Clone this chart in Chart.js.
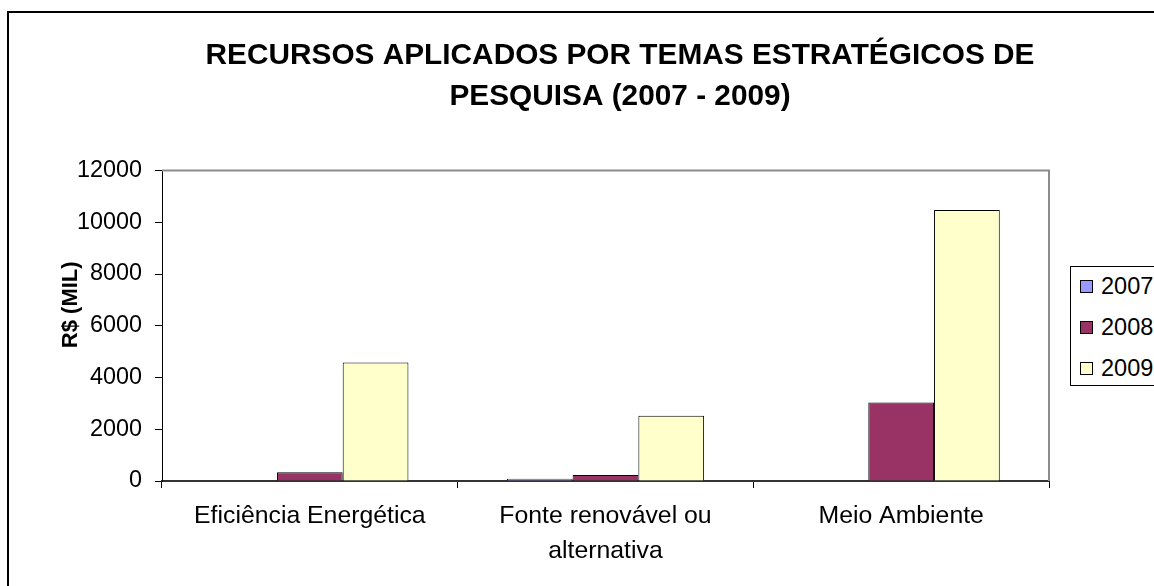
<!DOCTYPE html>
<html>
<head>
<meta charset="utf-8">
<script src="https://cdn.jsdelivr.net/npm/chart.js@4.4.1/dist/chart.umd.min.js"></script>
<style>
  html, body { margin: 0; padding: 0; background: #fff; overflow: hidden; width: 1154px; height: 586px; }
  #frame { position: absolute; left: 7px; top: 11px; width: 1300px; height: 700px; border: 2px solid #000; box-sizing: border-box; }
  #wrap { position: absolute; left: 0; top: 0; width: 1240px; height: 586px; }
  #legend { position: absolute; left: 1070px; top: 266px; width: 120px; height: 120px; border: 1px solid #000; box-sizing: border-box; background: #fff;
            font-family: 'Liberation Sans', Arial, sans-serif; font-size: 23.5px; color: #000; }
  .item { position: absolute; left: 9px; height: 26px; display: flex; align-items: center; }
  .sw { width: 13px; height: 13px; border: 1px solid #000; box-sizing: border-box; margin-right: 8px; }
</style>
</head>
<body>
<div id="frame"></div>
<div id="wrap"><canvas id="c" width="1240" height="586"></canvas></div>
<div id="legend"></div>
<script>
const titleLines = ["RECURSOS APLICADOS POR TEMAS ESTRATÉGICOS DE", "PESQUISA (2007 - 2009)"];
const yAxisTitle = "R$ (MIL)";
const categories = [["Eficiência Energética"], ["Fonte renovável ou", "alternativa"], ["Meio Ambiente"]];
const seriesNames = ["2007", "2008", "2009"];
const values2007 = [0, 90, 0];
const values2008 = [335, 232, 3030];
const values2009 = [4575, 2525, 10470];
const seriesColors = ["#9999FF", "#993366", "#FFFFCC"];
const yTicks = [0, 2000, 4000, 6000, 8000, 10000, 12000];

const FONT = "'Liberation Sans', Arial, sans-serif";
const seriesValues = [values2007, values2008, values2009];

const plotBorder = {
  id: 'plotBorder',
  beforeDatasetsDraw(chart) {
    const a = chart.chartArea, ctx = chart.ctx;
    ctx.save();
    ctx.strokeStyle = '#8c8c8c';
    ctx.lineWidth = 2;
    ctx.beginPath();
    ctx.moveTo(a.left, a.top);
    ctx.lineTo(a.right, a.top);
    ctx.lineTo(a.right, a.bottom);
    ctx.stroke();
    ctx.restore();
  }
};

// y-axis title, drawn as text on the canvas beside the value axis
const yTitle = {
  id: 'yTitle',
  afterDraw(chart) {
    const a = chart.chartArea, ctx = chart.ctx;
    ctx.save();
    ctx.translate(71, (a.top + a.bottom) / 2 - 21);
    ctx.rotate(-Math.PI / 2);
    ctx.font = "bold 22px " + FONT;
    ctx.fillStyle = '#000';
    ctx.textAlign = 'center';
    ctx.textBaseline = 'middle';
    ctx.fillText(yAxisTitle, 0, 0);
    ctx.restore();
  }
};

const chart = new Chart(document.getElementById('c'), {
  type: 'bar',
  data: {
    labels: categories,
    datasets: seriesNames.map((n, i) => ({
      label: n,
      data: seriesValues[i],
      backgroundColor: seriesColors[i],
      borderColor: '#000',
      borderWidth: 1,
      categoryPercentage: 0.667,
      barPercentage: 1.0
    }))
  },
  options: {
    responsive: false,
    animation: false,
    layout: { padding: { left: 0, right: 0, top: 0, bottom: 0 } },
    plugins: {
      legend: { display: false },
      tooltip: { enabled: false },
      title: {
        display: true,
        text: titleLines,
        color: '#000',
        font: { family: FONT, weight: 'bold', size: 29.8, lineHeight: '41.5px' },
        padding: { top: 35, bottom: 52.5 }
      }
    },
    scales: {
      x: {
        offset: true,
        grid: { offset: true, drawOnChartArea: false, drawTicks: true, tickLength: 7, color: '#000', lineWidth: 1 },
        border: { display: true, color: '#333', width: 2 },
        ticks: { color: '#000', font: { family: FONT, size: 24.8, lineHeight: '35px' }, padding: 10.5, maxRotation: 0, autoSkip: false },
        afterFit(s) { s.height = 105; }
      },
      y: {
        min: 0, max: 12000,
        afterBuildTicks(s) { s.ticks = yTicks.map(v => ({ value: v })); },
        grid: { drawOnChartArea: false, drawTicks: true, tickLength: 7, color: '#000', lineWidth: 1 },
        border: { display: true, color: '#000', width: 1 },
        ticks: { color: '#000', font: { family: FONT, size: 23.4 }, padding: 13, callback: v => String(v) },
        afterFit(s) { s.width = 162; }
      },
      yRight: {
        position: 'right',
        display: true,
        grid: { display: false, drawTicks: false },
        border: { display: false },
        ticks: { display: false },
        afterFit(s) { s.width = 191; }
      }
    }
  },
  plugins: [plotBorder, yTitle]
});

// legend built from the dataset definitions
const leg = document.getElementById('legend');
const rowCenters = [19.7, 60.7, 101.7];
seriesNames.forEach((n, i) => {
  const it = document.createElement('div');
  it.className = 'item';
  it.style.top = (rowCenters[i] - 13) + 'px';
  const sw = document.createElement('div');
  sw.className = 'sw';
  sw.style.background = seriesColors[i];
  const tx = document.createElement('span');
  tx.textContent = n;
  it.appendChild(sw); it.appendChild(tx);
  leg.appendChild(it);
});
</script>
</body>
</html>
